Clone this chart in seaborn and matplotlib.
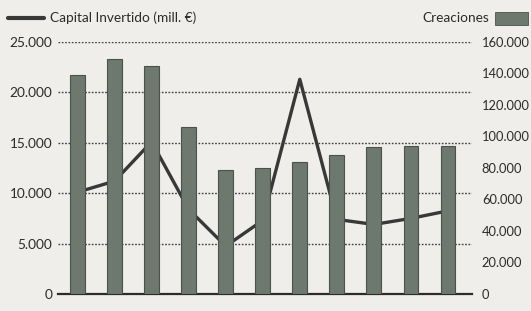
import numpy as np
import pandas as pd
import matplotlib
matplotlib.use("Agg")
import matplotlib.pyplot as plt
import seaborn as sns
from matplotlib.lines import Line2D
from matplotlib.patches import Rectangle
from matplotlib.ticker import FuncFormatter

years = ["2005", "2006", "2007", "2008", "2009", "2010", "2011", "2012", "2013", "2014", "2015"]
creaciones = [139000, 149500, 144500, 106000, 78700, 79800, 84000, 88200, 93500, 94000, 94000]
capital = [10100, 11200, 15100, 8400, 4750, 7300, 21300, 7400, 6900, 7500, 8250]
left_ticks = [0, 5000, 10000, 15000, 20000, 25000]
right_ticks = [0, 20000, 40000, 60000, 80000, 100000, 120000, 140000, 160000]

bg = "#efeeea"
txt = "#2b2b2b"
bar_col = "#6d786f"
line_col = "#383838"

sns.set_theme(style="white")
plt.rcParams["font.family"] = ["Lato", "DejaVu Sans"]

fig = plt.figure(figsize=(5.31, 3.11), dpi=100, facecolor=bg)
ax = fig.add_axes([0.109, 0.0547, 0.78, 0.8103])
ax.set_facecolor(bg)
ax2 = ax.twinx()

df = pd.DataFrame({"year": years, "creaciones": creaciones, "capital": capital})
df["pos"] = np.arange(len(years))

sns.lineplot(data=df, x="pos", y="capital", ax=ax, color=line_col, linewidth=2.4, zorder=2)
sns.barplot(data=df, x="year", y="creaciones", ax=ax2, color=bar_col, width=0.4,
            edgecolor="#4a524c", linewidth=0.8, saturation=1, zorder=3)

ax.set_xlim(-0.53, 10.65)
ax2.set_xlim(-0.53, 10.65)
ax.set_ylim(0, 25000)
ax2.set_ylim(0, 160000)

fmt = FuncFormatter(lambda v, p: f"{int(v):,}".replace(",", "."))
ax.set_yticks(left_ticks)
ax.yaxis.set_major_formatter(fmt)
ax2.set_yticks(right_ticks)
ax2.yaxis.set_major_formatter(fmt)

for g in left_ticks[1:]:
    ax.axhline(g, color="#3c3c3c", linestyle=(0, (1.2, 1.2)), linewidth=1.0, zorder=1)

ax.set_xticks(np.arange(len(years)))
ax.set_xticklabels(years)
ax2.set_xticks(np.arange(len(years)))
ax2.set_xticklabels([])
for t in ax.get_xticklabels():
    t.set_fontweight("bold")
    t.set_fontsize(7.5)
    t.set_color(txt)

ax.tick_params(axis="y", length=0, pad=4, labelsize=9.8, labelcolor=txt)
ax2.tick_params(axis="y", length=0, pad=7, labelsize=9.3, labelcolor=txt)
ax.tick_params(axis="x", length=0, pad=2)
ax2.tick_params(axis="x", length=0)

ax.set_xlabel("")
ax.set_ylabel("")
ax2.set_xlabel("")
ax2.set_ylabel("")
ax.grid(False)
ax2.grid(False)
for a in (ax, ax2):
    for s in ("left", "right", "top"):
        a.spines[s].set_visible(False)
ax2.spines["bottom"].set_color("#2b2b2b")
ax2.spines["bottom"].set_linewidth(1.6)
ax.spines["bottom"].set_visible(False)

# legend header
fig.add_artist(Line2D([8 / 531, 44 / 531], [1 - 18 / 311, 1 - 18 / 311], color=line_col, linewidth=3))
fig.text(50 / 531, 1 - 18 / 311, "Capital Invertido (mill. €)", ha="left", va="center",
         fontsize=9.8, color=txt)
fig.text(489 / 531, 1 - 18 / 311, "Creaciones", ha="right", va="center", fontsize=9.8, color=txt)
fig.add_artist(Rectangle((495 / 531, 1 - 25 / 311), 33 / 531, 13 / 311, facecolor=bar_col,
                         edgecolor="#4a524c", linewidth=0.6))

fig.savefig("out.png", dpi=100, facecolor=bg)
